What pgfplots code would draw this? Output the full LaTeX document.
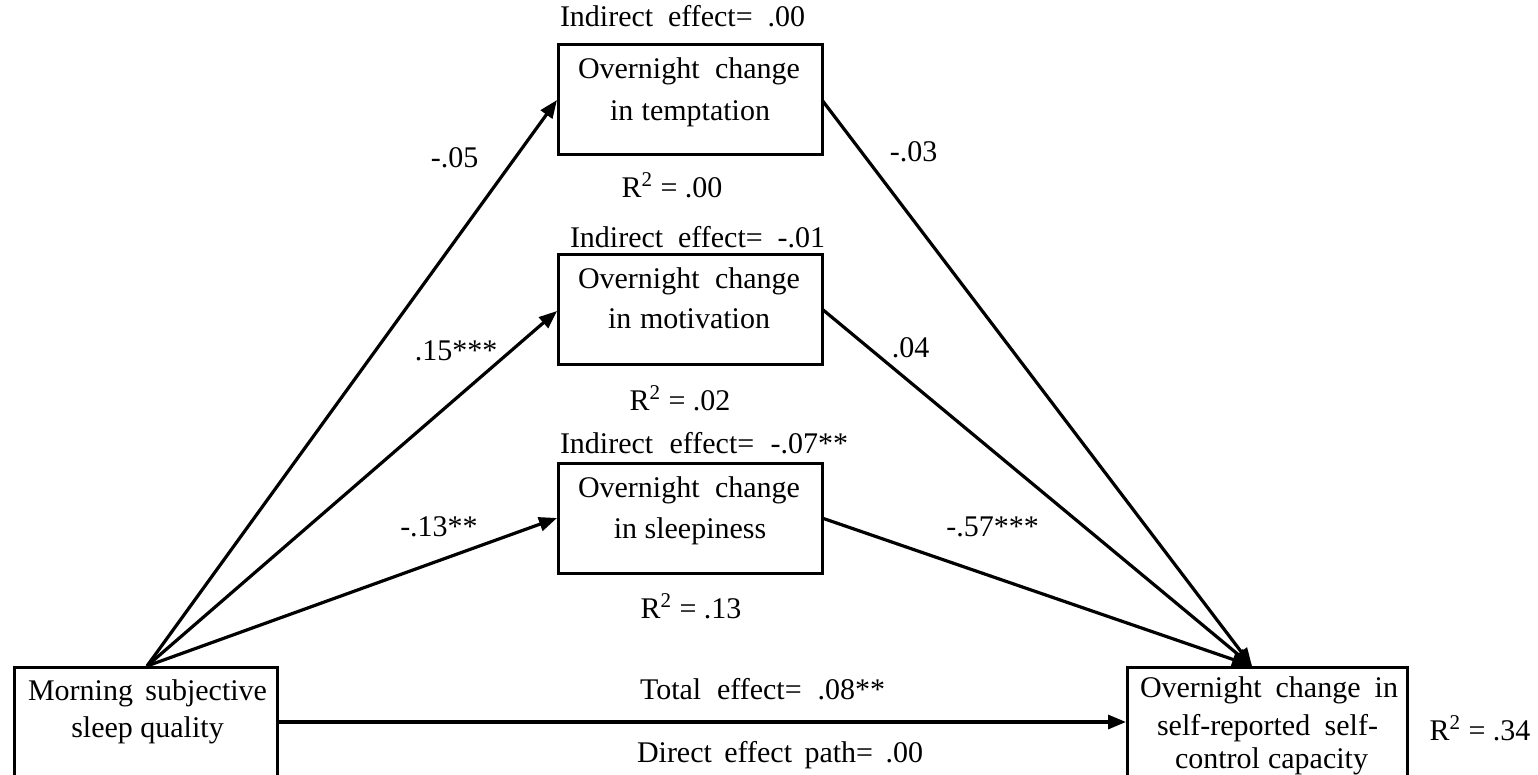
\documentclass[border=0pt]{standalone}
\usepackage{pgfplots}
\pgfplotsset{compat=1.18}
\usepackage{fontspec}
\setmainfont{Liberation Serif}
\usetikzlibrary{arrows.meta}
\newcommand{\J}[2]{\makebox[#1bp][s]{#2}}
\begin{document}
\begin{tikzpicture}[every node/.style={font=\fontsize{15bp}{18bp}\selectfont, inner sep=0pt, anchor=base}]
\begin{axis}[
  hide axis, scale only axis, width=769bp, height=387.5bp,
  xmin=0, xmax=1538, ymin=0, ymax=775, y dir=reverse, clip=false,
  every axis plot/.append style={black, mark=none},
]
% boxes
\addplot[line width=1.5bp] coordinates {(558,45) (822,45) (822,154) (558,154)} --cycle;
\addplot[line width=1.5bp] coordinates {(558,254) (822,254) (822,364) (558,364)} --cycle;
\addplot[line width=1.5bp] coordinates {(558,463) (822,463) (822,573) (558,573)} --cycle;
\addplot[line width=1.5bp] coordinates {(14,790) (14,667) (277,667) (277,790)};
\addplot[line width=1.5bp] coordinates {(1127,790) (1127,667) (1407,667) (1407,790)};
% arrows from predictor
\addplot[line width=1.6bp, -{Triangle[length=9bp,width=7bp]}] coordinates {(147,666) (557,100)};
\addplot[line width=1.6bp, -{Triangle[length=9bp,width=7bp]}] coordinates {(147,666) (557,311)};
\addplot[line width=1.6bp, -{Triangle[length=9bp,width=7bp]}] coordinates {(147,666) (557,518)};
% arrows to outcome
\addplot[line width=1.6bp, -{Triangle[length=9bp,width=7bp]}] coordinates {(822,100) (1252,666)};
\addplot[line width=1.6bp, -{Triangle[length=9bp,width=7bp]}] coordinates {(822,309) (1252,666)};
\addplot[line width=1.6bp, -{Triangle[length=10bp,width=8bp]}] coordinates {(822,518) (1252,666)};
% direct path
\addplot[line width=1.6bp, -{Triangle[length=9bp,width=7bp]}] coordinates {(277,722) (1126,722)};
% texts: mediator 1
\node at (axis cs:682.5,27) {\J{122.5}{Indirect effect= .00}};
\node at (axis cs:689,78) {\J{111}{Overnight change}};
\node at (axis cs:690,120) {\J{80}{in temptation}};
\node at (axis cs:672,197) {R\textsuperscript{2} = .00};
% mediator 2
\node at (axis cs:697.5,247) {\J{127.5}{Indirect effect= -.01}};
\node at (axis cs:689,288) {\J{111}{Overnight change}};
\node at (axis cs:689,328) {\J{81}{in motivation}};
\node at (axis cs:680,410) {R\textsuperscript{2} = .02};
% mediator 3
\node at (axis cs:704,453) {\J{144}{Indirect effect= -.07**}};
\node at (axis cs:689,497) {\J{111}{Overnight change}};
\node at (axis cs:690,538) {in sleepiness};
\node at (axis cs:691,618) {R\textsuperscript{2} = .13};
% predictor
\node at (axis cs:147.5,700) {\J{119.5}{Morning subjective}};
\node at (axis cs:147.5,737) {sleep quality};
% outcome
\node at (axis cs:1269,697) {\J{129}{Overnight change in}};
\node at (axis cs:1267.5,735) {\J{110.5}{self-reported self-}};
\node at (axis cs:1271.5,768) {\J{96.5}{control capacity}};
\node at (axis cs:1480,740) {R\textsuperscript{2} = .34};
% path coefficients
\node at (axis cs:454.5,167) {-.05};
\node at (axis cs:456,360) {.15***};
\node at (axis cs:439,536) {-.13**};
\node at (axis cs:913.5,161) {-.03};
\node at (axis cs:910.5,357) {.04};
\node at (axis cs:992.5,536) {-.57***};
\node at (axis cs:762.5,699) {\J{122.5}{Total effect= .08**}};
\node at (axis cs:780,762) {\J{143}{Direct effect path= .00}};
\end{axis}
\pgfresetboundingbox
\path (0,0) rectangle (769bp,387.5bp);
\end{tikzpicture}
\end{document}
